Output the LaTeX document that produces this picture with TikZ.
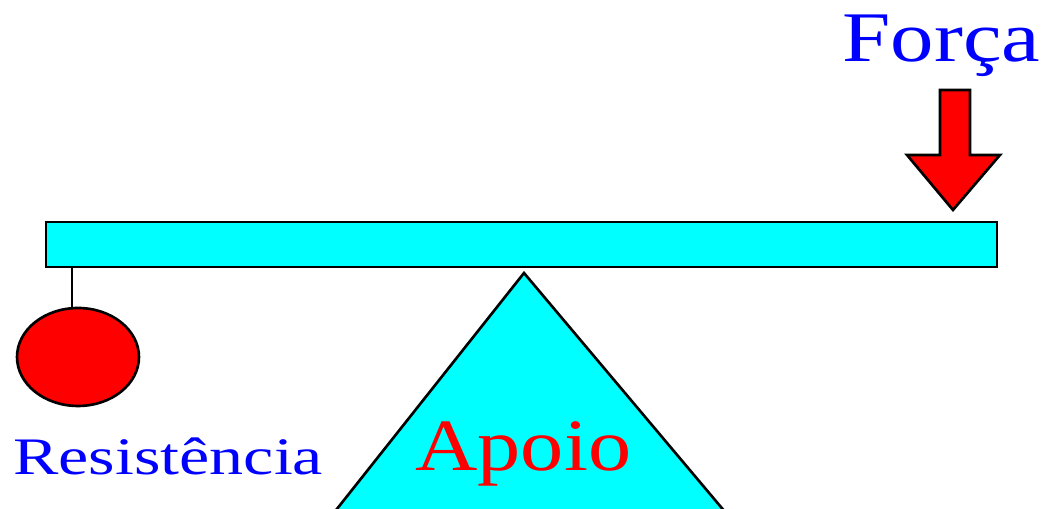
\documentclass[tikz,border=0pt]{standalone}
\usepackage{fontspec}
\setmainfont{Liberation Serif}
\usetikzlibrary{shapes.geometric}
\definecolor{levcyan}{HTML}{00FFFF}
\definecolor{levred}{HTML}{FF0000}
\definecolor{levblue}{HTML}{0000FF}

\begin{document}
\begin{tikzpicture}[x=0.02cm, y=0.02cm, line join=miter]
  \tikzset{
    part/.style={draw=black, line width=1.5pt},
    word/.style={inner sep=0pt, anchor=base west},
  }
  \useasboundingbox (0,0) rectangle (1056,509);
  \fill[white] (0,0) rectangle (1056,509);
  % Apoio (triangulo cortado em baixo)
  \begin{scope}
    \clip (0,0) rectangle (1056,509);
    \filldraw[part, fill=levcyan] (524,236) -- (329,-10) -- (731,-10) -- cycle;
  \end{scope}
  \node[word, text=levred, xscale=1.17, font=\fontsize{42}{42}\selectfont] (apoio) at (415,38) {Apoio};
  % Alavanca
  \filldraw[part, fill=levcyan] (46,242) rectangle (997,287);
  \coordinate (hook) at (72,242);
  % Resistencia
  \node[part, fill=levred, ellipse, inner sep=0pt, minimum width=2.44cm, minimum height=1.96cm] (ball) at (78,152) {};
  \draw[part] (hook) -- (hook |- ball.north);
  \node[word, text=levblue, xscale=1.29, font=\fontsize{30}{30}\selectfont] (resist) at (13,34) {Resistência};
  % Forca
  \filldraw[part, fill=levred] (940,419) -- (970,419) -- (970,354) -- (1000,354) -- (953,299)
    -- (907,354) -- (940,354) -- cycle;
  \node[word, text=levblue, xscale=1.22, font=\fontsize{40.5}{40.5}\selectfont] (forca) at (842,447) {Força};
\end{tikzpicture}
\end{document}
